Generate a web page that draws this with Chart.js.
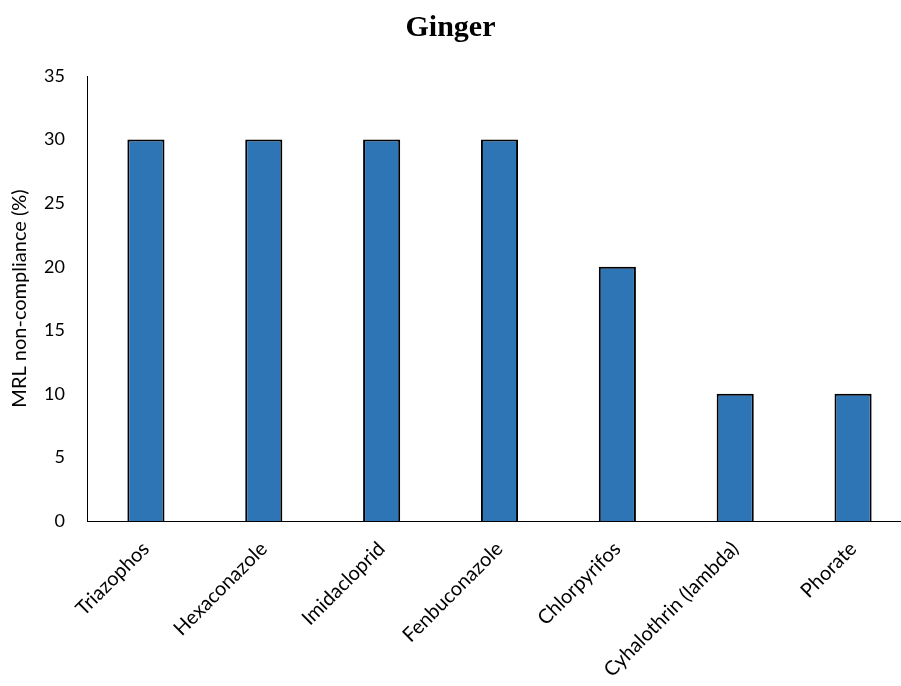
<!DOCTYPE html>
<html>
<head>
<meta charset="utf-8">
<script src="https://cdn.jsdelivr.net/npm/chart.js@4/dist/chart.umd.min.js"></script>
<style>
  html, body { margin: 0; padding: 0; background: #fff; overflow: hidden; }
  #wrap { width: 912px; height: 686px; }
</style>
</head>
<body>
<div id="wrap"><canvas id="c" width="912" height="686"></canvas></div>
<script>
const categories = ['Triazophos', 'Hexaconazole', 'Imidacloprid', 'Fenbuconazole', 'Chlorpyrifos', 'Cyhalothrin (lambda)', 'Phorate'];
const nonCompliance = [30, 30, 30, 30, 20, 10, 10];
const yTicks = [0, 5, 10, 15, 20, 25, 30, 35];

const labelFont = { family: 'Lato, "Open Sans", sans-serif', size: 20 };
const numFont = { family: 'Lato, "Open Sans", sans-serif', size: 18 };

// The canvas is slightly wider than the visible page; keep the title centred on the visible part.
const titleCentre = {
  id: 'titleCentre',
  afterLayout(chart) {
    if (chart.titleBlock) chart.titleBlock.right = 901;
  }
};

new Chart(document.getElementById('c'), {
  type: 'bar',
  plugins: [titleCentre],
  data: {
    labels: categories,
    datasets: [{
      data: nonCompliance,
      backgroundColor: '#2E75B6',
      borderColor: '#000000',
      borderWidth: 2,
      categoryPercentage: 1,
      barPercentage: 0.315
    }]
  },
  options: {
    responsive: false,
    animation: false,
    layout: { padding: 0 },
    plugins: {
      legend: { display: false },
      tooltip: { enabled: false },
      title: {
        display: true,
        text: 'Ginger',
        color: '#000',
        font: { family: '"Liberation Serif", "Times New Roman", serif', size: 30, weight: 'bold', lineHeight: 1.2 },
        padding: { top: 10, bottom: 30 }
      }
    },
    scales: {
      x: {
        grid: { display: false, drawTicks: false },
        border: { display: true, color: '#000', width: 1 },
        ticks: {
          color: '#000',
          font: labelFont,
          maxRotation: 45,
          minRotation: 45,
          padding: 16
        },
        afterFit: (scale) => { scale.height = 165; }
      },
      y: {
        min: 0,
        max: 35,
        afterBuildTicks: (axis) => { axis.ticks = yTicks.map(v => ({ value: v })); },
        grid: { display: false, drawTicks: false },
        border: { display: true, color: '#000', width: 1 },
        ticks: { color: '#000', font: numFont, padding: 22 },
        title: {
          display: true,
          text: 'MRL non-compliance (%)',
          color: '#000',
          font: labelFont,
          padding: { top: 8, bottom: 0 }
        },
        afterFit: (scale) => { scale.width = 87; }
      }
    }
  }
});
</script>
</body>
</html>
